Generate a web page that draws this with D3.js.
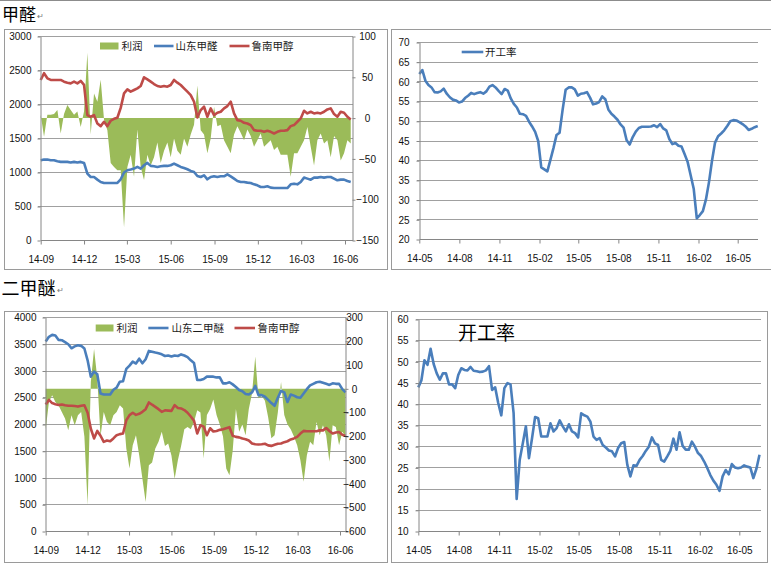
<!DOCTYPE html>
<html><head><meta charset="utf-8">
<script src="https://cdn.jsdelivr.net/npm/d3@7"></script>
<style>
body{margin:0;background:#fff}
svg{display:block}
.tk text{font-family:"Liberation Sans",Arial,sans-serif;font-size:10px;fill:#111}
.cjk{font-family:"Noto Sans CJK SC","Noto Sans",sans-serif}
</style>
</head><body>
<svg id="c" width="771" height="567"></svg>
<script>
// ---------------- DATA ----------------
// Chart 1: 甲醛 (weekly samples starting 2014-09-01)
const f_start = "2014-09-01";
const f_profit = [4,-23,4,4,5,10,-19,5,16,10, 4,8,-11,8,80,-20,30,20,47,-2,
  -15,-55,-60,-64,-64,-134,-60,-45,-72,-14, -60,-76,-45,-58,-48,-30,-55,-40,-30,-48,
  -25,-40,-45,-25,-35,-20,-8,40,-15,-20, -43,-25,14,-10,-8,-27,-35,-43,-20,-10,
  -18,-27,-14,-22,-35,-27,-19,-35,-31,-27, -39,-35,-45,-45,-45,-72,-43,-43,-35,-27,
  -11,-35,-58,-27,-19,-31,-27,-48,-22,-27, -52,-43,-27,-31];
const f_shandong = [1180,1190,1190,1180,1180,1166,1156,1156,1156,1146, 1156,1146,1156,1140,984,934,934,895,861,846,
  846,846,846,846,900,1000,1033,1043,1057,1082, 1057,1107,1141,1097,1092,1082,1092,1097,1097,1107,
  1131,1107,1082,1067,1048,1023,1008,949,934,959, 900,934,944,934,944,944,974,944,910,875,
  861,861,851,846,826,811,787,787,797,777, 772,772,772,772,772,826,836,826,861,925,
  910,895,925,925,934,925,934,934,910,885, 895,895,875,861];
const f_lunan = [2361,2460,2385,2361,2361,2361,2361,2336,2321,2311, 2336,2311,2346,2290,1844,1820,1844,1721,1682,1746,
  1682,1761,1790,1805,1950,2164,2223,2189,2213,2238, 2272,2400,2370,2336,2301,2272,2262,2272,2262,2287,
  2361,2321,2287,2238,2189,2139,2041,1810,1918,1967, 1820,1943,1844,1879,1893,1943,1977,2041,1869,1770,
  1761,1731,1721,1697,1623,1613,1613,1598,1613,1598, 1574,1598,1613,1613,1623,1682,1697,1746,1795,1908,
  1869,1893,1869,1879,1869,1893,1928,1943,1859,1820, 1893,1879,1820,1780];
const f_xLabels = ["14-09","14-12","15-03","15-06","15-09","15-12","16-03","16-06"];
const f_yLeft = [0,500,1000,1500,2000,2500,3000];
const f_yRight = [-150,-100,-50,0,50,100];

// Chart 2: 甲醛开工率 (weekly samples starting 2014-05-01)
const fr_start = "2014-05-01";
const fr_rate = [62.0,63.0,60.3,59.2,58.6,57.4,57.3,57.6,58.3,57.0, 56.1,55.5,55.3,54.8,55.0,55.9,56.5,57.2,56.9,57.2,
  57.4,57.0,57.6,58.8,59.2,58.6,57.7,56.9,58.2,57.8, 55.8,54.4,53.5,51.9,51.8,51.4,49.9,48.7,47.3,45.0,
  38.3,37.8,37.3,40.2,43.2,46.5,47.1,52.9,58.0,58.6, 58.6,58.1,56.5,57.0,57.1,57.4,56.0,54.3,54.5,54.9,
  56.3,55.6,53.0,51.9,51.2,50.4,49.2,48.4,45.2,44.1, 46.0,47.4,48.3,48.6,48.6,48.6,48.7,49.0,48.5,49.3,
  48.2,47.7,45.5,44.2,44.5,43.8,43.6,41.7,39.7,36.3, 32.9,25.4,26.2,27.2,30.1,34.5,40.0,44.6,46.2,46.9,
  47.7,48.8,50.0,50.3,50.2,49.8,49.3,48.7,47.8,48.1,48.5,48.8];
const fr_xLabels = ["14-05","14-08","14-11","15-02","15-05","15-08","15-11","16-02","16-05"];
const fr_yTicks = [20,25,30,35,40,45,50,55,60,65,70];

// Chart 3: 二甲醚 (weekly samples starting 2014-09-01)
const d_start = "2014-09-01";
const d_profit = [-170,-55,-27,-55,-70,-97,-125,-174,-111,-153, -111,-97,-200,-490,30,168,44,-200,-97,-139,
  -153,-111,-97,-69,-83,-251,-335,-237,-195,-279, -378,-476,-321,-310,-251,-223,-181,-240,-230,-280,
  -378,-300,-240,-170,-160,-170,-140,-90,-100,-293, -110,-85,-45,-110,-150,-200,-335,-363,-260,-85,
  -180,-150,-195,-85,-20,136,-40,-30,-50,-120, -208,-195,-100,29,-110,-150,-170,-200,-237,-300,
  -391,-280,-223,-237,-140,-195,-153,-195,-307,-153, -160,-237,-181,-200];
const d_shandong = [3550,3640,3675,3662,3581,3575,3540,3500,3425,3460, 3480,3470,3420,3200,2894,2990,2940,2580,2562,2562,
  2562,2650,2690,2800,2810,3040,3100,3175,3140,3230, 3144,3220,3375,3360,3344,3330,3312,3280,3290,3270,
  3290,3280,3310,3290,3260,3200,3150,2831,2831,2850, 2894,2894,2894,2880,2880,2769,2769,2790,2750,2700,
  2644,2620,2570,2560,2600,2720,2550,2550,2519,2460, 2400,2350,2500,2630,2600,2420,2560,2540,2510,2500,
  2580,2660,2730,2760,2790,2800,2780,2760,2740,2770, 2760,2760,2660,2600];
const d_lunan = [2375,2460,2400,2380,2365,2375,2360,2350,2350,2345, 2335,2350,2360,2220,1920,1740,1880,1790,1675,1700,
  1687,1740,1800,1820,1831,2080,2175,2220,2180,2200, 2237,2287,2412,2370,2330,2287,2237,2265,2260,2255,
  2362,2310,2300,2270,2220,2150,2070,1831,1987,1960, 1800,1930,1870,1880,1900,1910,1930,1950,1790,1769,
  1760,1737,1725,1700,1644,1630,1625,1630,1640,1610, 1600,1620,1640,1644,1670,1687,1720,1740,1769,1830,
  1880,1875,1875,1875,1875,1890,1890,1935,1880,1831, 1850,1860,1810,1787];
const d_xLabels = ["14-09","14-12","15-03","15-06","15-09","15-12","16-03","16-06"];
const d_yLeft = [0,500,1000,1500,2000,2500,3000,3500,4000];
const d_yRight = [-600,-500,-400,-300,-200,-100,0,100,200,300];

// Chart 4: 二甲醚开工率 (weekly samples starting 2014-05-01)
const dr_start = "2014-05-01";
const dr_rate = [44.0,45.6,50.4,49.3,53.1,49.5,47.3,45.8,47.3,47.3, 44.7,44.7,43.8,46.9,48.5,48.1,48.0,48.8,47.9,47.8,
  47.6,47.7,48.0,49.0,43.4,44.0,40.3,37.4,43.8,45.0, 44.7,38.0,17.7,26.9,30.8,34.8,27.3,32.0,37.0,36.7,
  32.4,32.4,32.4,35.5,33.6,34.4,36.2,34.8,33.6,35.3, 33.6,33.2,32.2,37.9,37.4,37.1,35.9,32.4,31.6,32.0,
  30.4,29.8,29.1,28.9,27.7,29.7,30.8,31.1,25.7,23.0, 25.6,25.5,26.9,27.8,29.0,30.0,32.2,30.8,30.4,26.9,
  26.5,27.7,29.0,31.9,29.3,33.4,30.2,29.3,29.3,31.2, 30.0,28.5,27.8,26.5,25.0,23.3,22.0,21.0,19.6,23.0,
  24.5,23.5,25.9,25.1,24.9,25.1,25.6,25.3,25.1,22.6,24.8,28.1];
const dr_xLabels = ["14-05","14-08","14-11","15-02","15-05","15-08","15-11","16-02","16-05"];
const dr_yTicks = [10,15,20,25,30,35,40,45,50,55,60];

// ---------------- DRAWING ----------------
const svg = d3.select("#c");
const parse = d3.timeParse("%Y-%m-%d");
const GREEN = "#9bbb59", BLUE = "#4a7ebb", RED = "#be4b48", GRID = "#a0a0a0", AX = "#868686";
const LW = 2.6;
const weekly = (start, arr) => arr.map((v, i) => ({d: d3.timeDay.offset(parse(start), 7 * i), v}));
const labelDate = s => parse("20" + s + "-01");

// page top rule
svg.append("line").attr("x1", 0).attr("x2", 771).attr("y1", 0.5).attr("y2", 0.5).attr("stroke", "#8c8c8c");

function frame(x, y, w, h) {
  svg.append("rect").attr("x", x).attr("y", y).attr("width", w).attr("height", h)
    .attr("fill", "#fff").attr("stroke", "#9a9a9a").attr("stroke-width", 1);
}
frame(4.5, 29.5, 383, 240);
frame(391.5, 29.5, 400, 240);
frame(4.5, 311.5, 383, 251);
frame(391.5, 311.5, 376, 251);

// titles
function title(txt, x, y, size, markX, markY) {
  svg.append("text").attr("class", "cjk").attr("x", x).attr("y", y).attr("font-size", size).attr("fill", "#000").text(txt);
  svg.append("text").attr("class", "cjk").attr("x", markX).attr("y", markY).attr("font-size", 8).attr("fill", "#777").text("↵");
}
title("甲醛", 2, 20.5, 17, 37, 19);
title("二甲醚", 1.5, 294.5, 18, 56.5, 293);

function styleAxis(g) {
  g.select(".domain").attr("stroke", AX);
  g.selectAll(".tick line").attr("stroke", AX);
  g.attr("class", "tk");
}

function grid(g, ys, l, r) {
  g.selectAll(null).data(ys).join("line")
    .attr("x1", l - 3).attr("x2", r).attr("y1", d => d).attr("y2", d => d)
    .attr("stroke", GRID).attr("shape-rendering", "crispEdges");
}

function bottomAxis(g, x, labels, l, r, b) {
  const ax = g.append("g").attr("transform", `translate(0,${b})`)
    .call(d3.axisBottom(x).tickValues(labels.map(labelDate)).tickFormat((d, i) => labels[i])
      .tickSize(4).tickSizeOuter(0).tickPadding(11));
  ax.select(".domain").remove();
  ax.selectAll(".tick line").attr("stroke", AX);
  ax.attr("class", "tk");
  g.append("line").attr("x1", l).attr("x2", r).attr("y1", b).attr("y2", b).attr("stroke", AX).attr("shape-rendering", "crispEdges");
}

function legendItem(g, type, x, y, color, label, textX) {
  if (type === "rect") {
    g.append("rect").attr("x", x[0]).attr("y", y - 3.5).attr("width", x[1] - x[0]).attr("height", 7).attr("fill", color);
  } else {
    g.append("line").attr("x1", x[0]).attr("x2", x[1]).attr("y1", y).attr("y2", y).attr("stroke", color).attr("stroke-width", LW);
  }
  g.append("text").attr("class", "cjk").attr("x", textX).attr("y", y).attr("dy", "0.36em")
    .attr("font-size", 10.5).attr("fill", "#1a1a1a").text(label);
}

function dualChart(o) {
  const g = svg.append("g");
  const x = d3.scaleTime().domain([parse(o.x0), parse(o.x1)]).range([o.xr0, o.xr1]);
  const yL = d3.scaleLinear().domain([o.yL[0], o.yL[o.yL.length - 1]]).range([o.b, o.t]);
  const yR = d3.scaleLinear().domain([o.yR[0], o.yR[o.yR.length - 1]]).range([o.b, o.t]);
  grid(g, o.yL.slice(1).map(yL), o.l, o.r);

  const pr = weekly(o.start, o.profit);
  g.append("path").datum(pr).attr("fill", GREEN)
    .attr("d", d3.area().x(d => x(d.d)).y0(yR(0)).y1(d => yR(d.v)));

  const line = d3.line().x(d => x(d.d)).y(d => yL(d.v));
  g.append("path").datum(weekly(o.start, o.blue)).attr("fill", "none").attr("stroke", BLUE)
    .attr("stroke-width", LW).attr("stroke-linejoin", "round").attr("d", line);
  g.append("path").datum(weekly(o.start, o.red)).attr("fill", "none").attr("stroke", RED)
    .attr("stroke-width", LW).attr("stroke-linejoin", "round").attr("d", line);

  const la = g.append("g").attr("transform", `translate(${o.l},0)`)
    .call(d3.axisLeft(yL).tickValues(o.yL).tickSize(3).tickSizeOuter(0).tickPadding(6).tickFormat(d3.format("d")));
  styleAxis(la);
  const ra = g.append("g").attr("transform", `translate(${o.r},0)`)
    .call(d3.axisRight(yR).tickValues(o.yR).tickSize(3).tickSizeOuter(0).tickPadding(6).tickFormat(d3.format("d")));
  styleAxis(ra);
  ra.selectAll(".tick text").attr("text-anchor", "middle").attr("x", o.rLabX);

  bottomAxis(g, x, o.xLabels, o.l, o.r, o.b);

  o.legend.forEach(it => legendItem(g, it.type, it.x, o.legY, it.color, it.label, it.tx));
}

function rateChart(o) {
  const g = svg.append("g");
  const x = d3.scaleTime().domain([parse(o.x0), parse(o.x1)]).range([o.xr0, o.xr1]);
  const y = d3.scaleLinear().domain([o.yT[0], o.yT[o.yT.length - 1]]).range([o.b, o.t]);
  grid(g, o.yT.slice(1).map(y), o.l, o.r);
  g.append("path").datum(weekly(o.start, o.vals)).attr("fill", "none").attr("stroke", BLUE)
    .attr("stroke-width", LW).attr("stroke-linejoin", "round")
    .attr("d", d3.line().x(d => x(d.d)).y(d => y(d.v)));
  const la = g.append("g").attr("transform", `translate(${o.l},0)`)
    .call(d3.axisLeft(y).tickValues(o.yT).tickSize(3).tickSizeOuter(0).tickPadding(7).tickFormat(d3.format("d")));
  styleAxis(la);
  bottomAxis(g, x, o.xLabels, o.l, o.r, o.b);
  if (o.legend) legendItem(g, "line", o.legend.x, o.legend.y, BLUE, o.legend.label, o.legend.tx);
  if (o.bigTitle) {
    g.append("text").attr("class", "cjk").attr("x", o.bigTitle.x).attr("y", o.bigTitle.y)
      .attr("font-size", 19).attr("fill", "#000").text(o.bigTitle.label);
  }
}

dualChart({
  start: f_start, profit: f_profit, blue: f_shandong, red: f_lunan,
  x0: "2014-09-01", x1: "2016-06-01", xr0: 40.7, xr1: 345,
  l: 40.5, r: 352.5, t: 36.5, b: 240.5,
  yL: f_yLeft, yR: f_yRight, xLabels: f_xLabels, rLabX: 15,
  legY: 46,
  legend: [
    {type: "rect", x: [100, 118.5], color: GREEN, label: "利润", tx: 121.5},
    {type: "line", x: [154, 173.5], color: BLUE, label: "山东甲醛", tx: 175.5},
    {type: "line", x: [229.5, 249.5], color: RED, label: "鲁南甲醇", tx: 251.5}
  ]
});

dualChart({
  start: d_start, profit: d_profit, blue: d_shandong, red: d_lunan,
  x0: "2014-09-01", x1: "2016-06-01", xr0: 45.7, xr1: 340,
  l: 45.5, r: 345.5, t: 317.5, b: 531.5,
  yL: d_yLeft, yR: d_yRight, xLabels: d_xLabels, rLabX: 9,
  legY: 328,
  legend: [
    {type: "rect", x: [95.7, 113.5], color: GREEN, label: "利润", tx: 116.5},
    {type: "line", x: [148.3, 168.5], color: BLUE, label: "山东二甲醚", tx: 171.5},
    {type: "line", x: [234.5, 255], color: RED, label: "鲁南甲醇", tx: 257.5}
  ]
});

rateChart({
  start: fr_start, vals: fr_rate,
  x0: "2014-05-01", x1: "2016-05-01", xr0: 419.3, xr1: 737.7,
  l: 419.5, r: 757.5, t: 42.5, b: 239.5,
  yT: fr_yTicks, xLabels: fr_xLabels,
  legend: {x: [461.7, 483.3], y: 52, label: "开工率", tx: 485}
});

rateChart({
  start: dr_start, vals: dr_rate,
  x0: "2014-05-01", x1: "2016-05-01", xr0: 418.3, xr1: 739.3,
  l: 418.5, r: 760.5, t: 319.5, b: 531.5,
  yT: dr_yTicks, xLabels: dr_xLabels,
  bigTitle: {x: 458, y: 340, label: "开工率"}
});
</script>
</body></html>
